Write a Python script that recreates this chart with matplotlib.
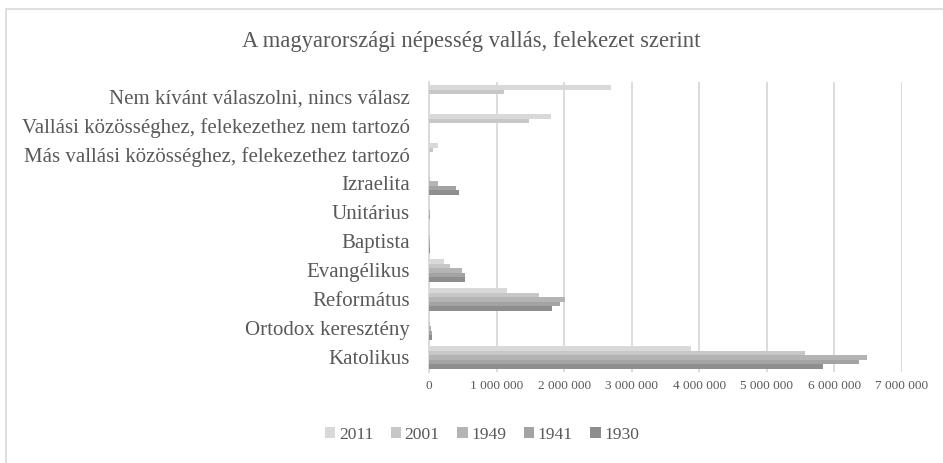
import matplotlib
matplotlib.use("Agg")
import matplotlib.pyplot as plt
import numpy as np
from matplotlib.patches import Rectangle
from matplotlib.ticker import FuncFormatter, MultipleLocator

plt.rcParams['font.family'] = ['Liberation Serif', 'DejaVu Serif']

categories = ["Katolikus", "Ortodox keresztény", "Református", "Evangélikus",
              "Baptista", "Unitárius", "Izraelita",
              "Más vallási közösséghez, felekezethez tartozó",
              "Vallási közösséghez, felekezethez nem tartozó",
              "Nem kívánt válaszolni, nincs válasz"]

years = ["2011", "2001", "1949", "1941", "1930"]

v2011 = [3870000, 13700, 1153000, 215000, 18200, 6200, 11000, 130000, 1806000, 2699000]
v2001 = [5558000, 14500, 1623000, 305000, 17700, 6500, 12900, 60000, 1483000, 1104000]
v1949 = [6488000, 35000, 2015000, 482000, 20000, 11000, 134000, 0, 0, 0]
v1941 = [6360000, 38000, 1936000, 540000, 19000, 10000, 401000, 0, 0, 0]
v1930 = [5835000, 40000, 1813000, 534000, 15000, 6000, 445000, 0, 0, 0]

series = [v2011, v2001, v1949, v1941, v1930]
colors = ["#d9d9d9", "#c7c7c7", "#b4b4b4", "#a3a3a3", "#8e8e8e"]

fig = plt.figure(figsize=(9.43, 4.63), dpi=100)
ax = fig.add_axes([429/943, 1 - 372/463, 473/943, 290/463])

n = len(series)
bh = 0.16
y = np.arange(len(categories))
for i, (vals, c, yr) in enumerate(zip(series, colors, years)):
    off = (n - 1) / 2 * bh - i * bh
    ax.barh(y + off, vals, height=bh, color=c, label=yr, zorder=3)

ax.set_ylim(-0.5, len(categories) - 0.5)
ax.set_xlim(0, 7000000)
ax.xaxis.set_major_locator(MultipleLocator(1000000))
ax.xaxis.set_major_formatter(FuncFormatter(lambda v, p: f"{int(v):,}".replace(",", " ")))
ax.set_yticks(y)
ax.set_yticklabels(categories)
ax.grid(axis='x', color='#d9d9d9', linewidth=1.3, zorder=0)
for s in ['top', 'right', 'bottom']:
    ax.spines[s].set_visible(False)
ax.spines['left'].set_color('#d9d9d9')
ax.spines['left'].set_linewidth(1.3)
ax.tick_params(axis='both', length=0, colors='#595959')
ax.tick_params(axis='y', labelsize=15, pad=14)
ax.tick_params(axis='x', labelsize=9.5, pad=6)

fig.text(0.5, 1 - 41/463, "A magyarországi népesség vallás, felekezet szerint",
         ha='center', va='center', fontsize=16.3, color='#595959')

leg = fig.legend(loc='center', bbox_to_anchor=(482/943, 1 - 435/463), ncol=5,
                 frameon=False, fontsize=12.6, handlelength=0.6, handleheight=0.6,
                 handletextpad=0.2, columnspacing=1.0, labelcolor='#595959')

fig.patches.append(Rectangle((6/943, -0.1), 2, 1.1 - 9/463, transform=fig.transFigure,
                             fill=False, edgecolor='#d9d9d9', linewidth=1.2))

fig.savefig("out.png", dpi=100)
